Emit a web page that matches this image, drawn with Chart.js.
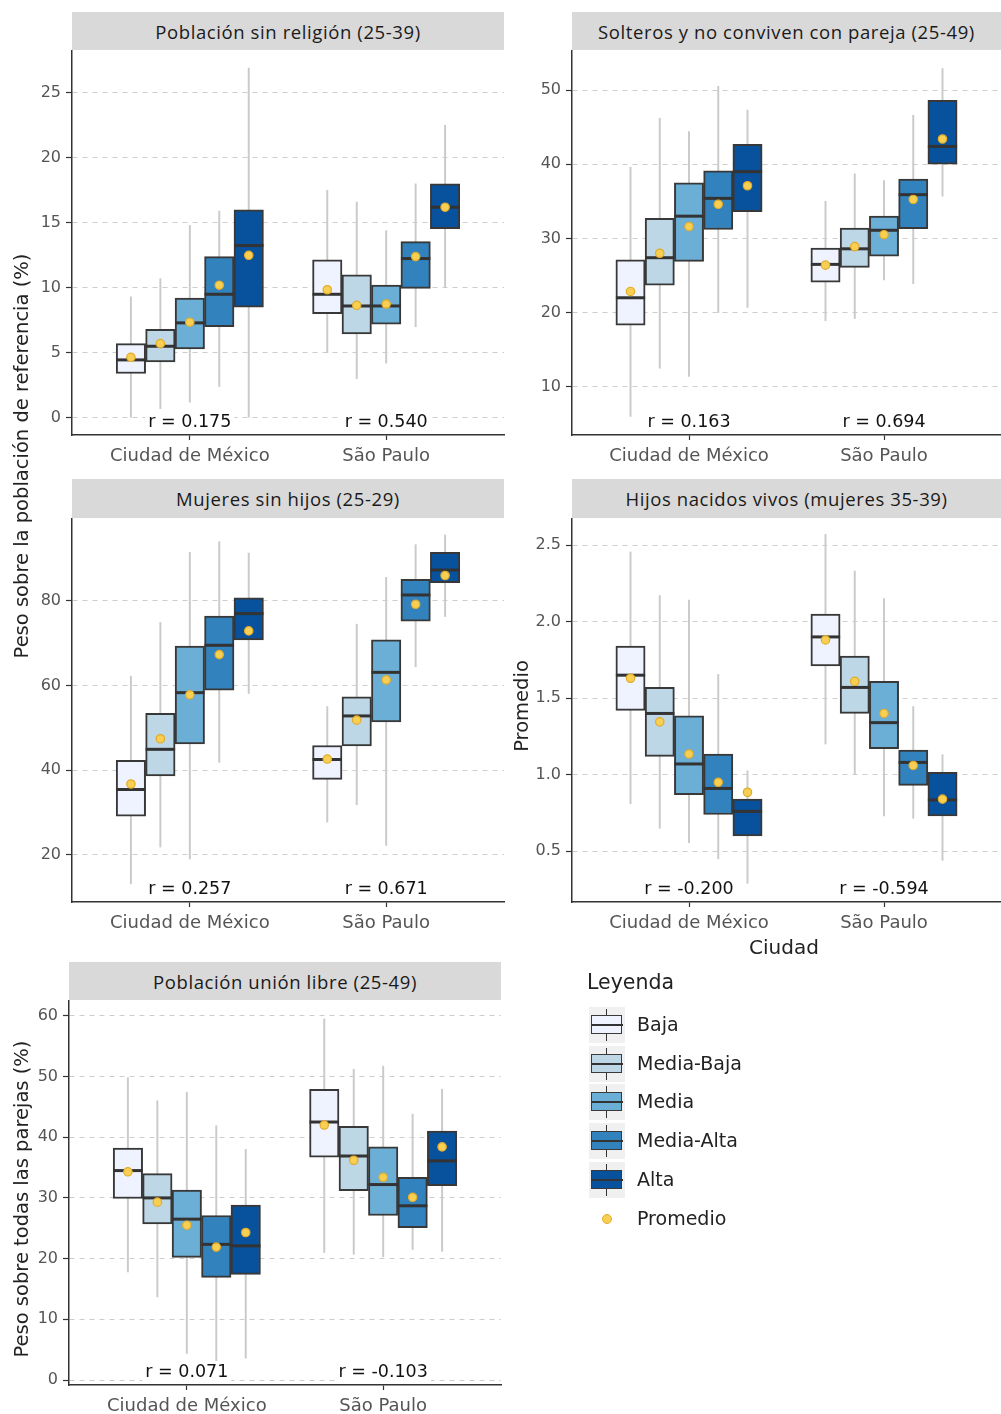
<!DOCTYPE html>
<html>
<head>
  <meta charset="utf-8">
  <title>Boxplots por ciudad</title>
  <style>
    body {
      margin: 0;
      background: #fff;
      font-family: 'DejaVu Sans', sans-serif;
    }
    #page {
      position: relative;
      width: 1001px;
      height: 1414px;
      overflow: hidden;
    }
    canvas { position: absolute; }
    .strip {
      position: absolute;
      background: #d9d9d9;
      color: #1a1a1a;
      font-family: 'Open Sans', sans-serif;
      font-size: 18.5px;
      letter-spacing: 0.6px;
      text-align: center;
      display: flex;
      align-items: center;
      justify-content: center;
    }
    .ytitle {
      position: absolute;
      width: 600px;
      height: 26px;
      line-height: 26px;
      text-align: center;
      font-size: 19.5px;
      color: #222;
      transform: rotate(-90deg);
    }
    .lab { position: absolute; color: #222; }
    .key {
      position: absolute;
      width: 36px;
      height: 36px;
      background: #f0f0f0;
    }
    .key .wh { position: absolute; left: 17px; top: 2px; width: 1.2px; height: 32px; background: #333; }
    .key .bx { position: absolute; left: 2px; top: 8px; width: 29px; height: 17px; border: 1.5px solid #3a3a3a; }
    .key .md { position: absolute; left: 2px; top: 17px; width: 32px; height: 2px; background: #333; }
  </style>
</head>
<body>
<div id="page">
  <div class="strip" style="left:72px;top:12px;width:432px;height:38px">Población sin religión (25-39)</div>
  <div class="strip" style="left:572px;top:12px;width:429px;height:38px">Solteros y no conviven con pareja (25-49)</div>
  <div class="strip" style="left:72px;top:479px;width:432px;height:39px">Mujeres sin hijos (25-29)</div>
  <div class="strip" style="left:572px;top:479px;width:429px;height:39px">Hijos nacidos vivos (mujeres 35-39)</div>
  <div class="strip" style="left:69px;top:962px;width:432px;height:38px">Población unión libre (25-49)</div>

  <canvas id="c1" width="510" height="430" style="left:0;top:50px"></canvas>
  <canvas id="c2" width="501" height="430" style="left:500px;top:50px"></canvas>
  <canvas id="c3" width="510" height="429" style="left:0;top:518px"></canvas>
  <canvas id="c4" width="501" height="429" style="left:500px;top:518px"></canvas>
  <canvas id="c5" width="510" height="414" style="left:0;top:1000px"></canvas>

  <div class="ytitle" style="left:-278px;top:443px">Peso sobre la población de referencia (%)</div>
  <div class="ytitle" style="left:222px;top:693px">Promedio</div>
  <div class="ytitle" style="left:-278px;top:1186px">Peso sobre todas las parejas (%)</div>
  <div class="lab" style="left:749px;top:935px;font-size:20px">Ciudad</div>

  <div id="legend"></div>
</div>

<script src="https://cdn.jsdelivr.net/npm/chart.js@4.4.0/dist/chart.umd.min.js"></script>
<script>
// categorias
var cities = ['Ciudad de México', 'São Paulo'];
var levels = ['Baja', 'Media-Baja', 'Media', 'Media-Alta', 'Alta'];
var levelColors = ['#eff3ff', '#bdd7e7', '#6baed6', '#3182bd', '#08519c'];

// cada arreglo: 5 niveles de CDMX y luego 5 de São Paulo
// Población sin religión (25-39)
var relLow  = [0.0, 0.7, 1.2, 2.4, 0.0,     5.0, 3.0, 4.2, 7.0, 10.0];
var relQ1   = [3.4, 4.3, 5.3, 7.0, 8.5,     8.0, 6.45, 7.2, 9.95, 14.55];
var relMed  = [4.45, 5.5, 7.3, 9.5, 13.25,  9.5, 8.6, 8.6, 12.25, 16.2];
var relQ3   = [5.7, 6.8, 9.2, 12.4, 16.0,   12.15, 11.0, 10.2, 13.55, 18.0];
var relHigh = [9.3, 10.7, 14.8, 15.9, 26.9, 17.5, 16.6, 14.4, 18.0, 22.5];
var relMean = [4.65, 5.7, 7.35, 10.2, 12.5, 9.85, 8.65, 8.75, 12.4, 16.2];
var relTicks = [0, 5, 10, 15, 20, 25];
var relR = ['r = 0.175', 'r = 0.540'];

// Solteros y no conviven con pareja (25-49)
var solLow  = [6.0, 12.5, 11.4, 20.0, 20.7,   18.9, 19.2, 24.4, 23.9, 35.7];
var solQ1   = [18.3, 23.7, 26.9, 31.2, 33.6,  24.1, 26.1, 27.6, 31.3, 40.0];
var solMed  = [22.0, 27.4, 33.0, 35.4, 39.0,  26.5, 28.6, 31.1, 35.9, 42.4];
var solQ3   = [27.1, 32.7, 37.5, 39.1, 42.7,  28.7, 31.4, 33.0, 38.0, 48.6];
var solHigh = [39.6, 46.2, 44.4, 50.5, 47.3,  35.0, 38.7, 37.8, 46.6, 52.9];
var solMean = [22.85, 28.0, 31.6, 34.6, 37.1, 26.4, 28.9, 30.5, 35.25, 43.4];
var solTicks = [10, 20, 30, 40, 50];
var solR = ['r = 0.163', 'r = 0.694'];

// Mujeres sin hijos (25-29)
var hijLow  = [13.1, 21.8, 19.0, 41.8, 58.1,  27.7, 31.8, 22.2, 64.4, 76.3];
var hijQ1   = [29.1, 38.6, 46.2, 58.9, 70.8,  37.8, 45.7, 51.4, 75.2, 84.3];
var hijMed  = [35.4, 44.9, 58.3, 69.5, 77.0,  42.5, 52.8, 63.1, 81.4, 87.3];
var hijQ3   = [42.3, 53.4, 69.3, 76.4, 80.7,  45.8, 57.3, 70.8, 85.1, 91.5];
var hijHigh = [62.2, 74.9, 91.5, 94.0, 91.3,  55.0, 74.5, 85.6, 93.3, 95.6];
var hijMean = [36.7, 47.4, 57.8, 67.3, 72.9,  42.6, 51.8, 61.3, 79.2, 86.0];
var hijTicks = [20, 40, 60, 80];
var hijR = ['r = 0.257', 'r = 0.671'];

// Hijos nacidos vivos (mujeres 35-39)
var nacLow  = [0.81, 0.65, 0.555, 0.45, 0.29,   1.20, 1.00, 0.73, 0.715, 0.44];
var nacQ1   = [1.42, 1.12, 0.87, 0.74, 0.60,    1.71, 1.40, 1.17, 0.93, 0.73];
var nacMed  = [1.65, 1.40, 1.07, 0.91, 0.76,    1.90, 1.57, 1.34, 1.08, 0.835];
var nacQ3   = [1.84, 1.57, 1.385, 1.135, 0.84,  2.05, 1.775, 1.61, 1.16, 1.015];
var nacHigh = [2.455, 2.17, 2.14, 1.655, 1.025, 2.57, 2.33, 2.15, 1.445, 1.13];
var nacMean = [1.63, 1.345, 1.135, 0.95, 0.885, 1.88, 1.61, 1.40, 1.06, 0.84];
var nacTicks = [0.5, 1.0, 1.5, 2.0, 2.5];
var nacR = ['r = -0.200', 'r = -0.594'];

// Población unión libre (25-49)
var uniLow  = [17.8, 13.7, 4.4, 0.5, 3.6,     21.0, 20.7, 20.3, 21.5, 21.2];
var uniQ1   = [29.9, 25.7, 20.2, 16.9, 17.4,  36.7, 31.2, 27.1, 25.1, 32.0];
var uniMed  = [34.5, 30.0, 26.5, 22.35, 22.1, 42.5, 36.9, 32.2, 28.7, 36.1];
var uniQ3   = [38.2, 34.0, 31.3, 27.1, 28.8,  47.9, 41.8, 38.4, 33.4, 41.0];
var uniHigh = [49.8, 46.0, 47.4, 41.9, 38.0,  59.5, 51.2, 51.7, 43.8, 47.9];
var uniMean = [34.3, 29.3, 25.5, 21.9, 24.3,  42.0, 36.2, 33.4, 30.1, 38.4];
var uniTicks = [0, 10, 20, 30, 40, 50, 60];
var uniR = ['r = 0.071', 'r = -0.103'];

var dodge = 0.15;   // ancho de cada caja en unidades del eje x
var fontFam = "'DejaVu Sans', sans-serif";

function xPos(i) {
  var c = Math.floor(i / 5), k = i % 5;
  return c + 1 + (k - 2) * dodge;
}

// etiqueta r = ... con fondo blanco
function rText(labels) {
  return {
    id: 'rtext',
    afterDatasetsDraw: function (chart) {
      var ctx = chart.ctx, x = chart.scales.x, y0 = chart.chartArea.bottom - 14;
      ctx.save();
      ctx.font = '17.5px ' + fontFam;
      ctx.textAlign = 'center';
      ctx.textBaseline = 'middle';
      labels.forEach(function (t, c) {
        var px = x.getPixelForValue(c + 1);
        var w = ctx.measureText(t).width + 6;
        ctx.fillStyle = '#fff';
        ctx.fillRect(px - w / 2, y0 - 10, w, 20);
        ctx.fillStyle = '#111';
        ctx.fillText(t, px, y0 + 1);
      });
      ctx.restore();
    }
  };
}

function boxChart(id, low, q1, med, q3, high, mean, yMin, yMax, ticks, tickFmt, rLabels, lay) {
  var idx = low.map(function (_, i) { return i; });
  var datasets = [];

  datasets.push({
    type: 'bar', label: 'bigotes',
    data: idx.map(function (i) { return { x: xPos(i), y: [low[i], high[i]] }; }),
    backgroundColor: '#cacaca', borderWidth: 0,
    barThickness: 1.3, grouped: false, order: 4
  });

  levels.forEach(function (lv, k) {
    datasets.push({
      type: 'bar', label: lv,
      data: cities.map(function (_, c) {
        var i = c * 5 + k;
        return { x: xPos(i), y: [q1[i], q3[i]] };
      }),
      backgroundColor: levelColors[k],
      borderColor: '#383838', borderWidth: 2, borderSkipped: false,
      grouped: false, categoryPercentage: 1, barPercentage: 1, order: 3
    });
  });

  datasets.push({
    type: 'scatter', label: 'mediana',
    data: idx.map(function (i) { return { x: xPos(i), y: med[i] }; }),
    pointStyle: 'line',
    pointRadius: function (ctx) {
      var x = ctx.chart.scales.x;
      return (x.getPixelForValue(1 + dodge) - x.getPixelForValue(1)) / 2;
    },
    borderColor: '#333', borderWidth: 3, order: 2
  });

  datasets.push({
    type: 'scatter', label: 'Promedio',
    data: idx.map(function (i) { return { x: xPos(i), y: mean[i] }; }),
    pointStyle: 'circle', pointRadius: 4.2,
    backgroundColor: '#f6cf53', borderColor: '#e3ab2a', borderWidth: 1.2, order: 1
  });

  return new Chart(document.getElementById(id), {
    type: 'bar',
    data: { datasets: datasets },
    plugins: [rText(rLabels)],
    options: {
      responsive: false,
      animation: false,
      events: [],
      layout: { autoPadding: false, padding: { left: 0, right: lay.rp, top: 0, bottom: 0 } },
      plugins: { legend: { display: false }, tooltip: { enabled: false } },
      scales: {
        x: {
          type: 'linear', min: 0.4, max: 2.6, offset: false,
          afterBuildTicks: function (s) { s.ticks = [{ value: 1 }, { value: 2 }]; },
          afterFit: function (s) { s.height = lay.xh; s.paddingLeft = 0; s.paddingRight = 0; },
          ticks: {
            padding: 6,
            color: '#555',
            font: { family: fontFam, size: 18 },
            callback: function (v) { return cities[Math.round(v) - 1]; }
          },
          grid: {
            offset: false, drawOnChartArea: false, drawTicks: true,
            tickLength: 5, tickColor: '#333', tickWidth: 1.2
          },
          border: { display: true, color: '#333', width: 1.5 }
        },
        y: {
          type: 'linear', min: yMin, max: yMax,
          afterBuildTicks: function (s) { s.ticks = ticks.map(function (v) { return { value: v }; }); },
          afterFit: function (s) { s.width = lay.yw; s.paddingTop = 0; s.paddingBottom = 0; },
          ticks: {
            padding: 5,
            color: '#555',
            font: { family: fontFam, size: 16 },
            callback: tickFmt
          },
          grid: {
            color: '#cdcdcd', lineWidth: 1,
            drawTicks: true, tickLength: 6, tickColor: '#333', tickWidth: 1.2,
            tickBorderDash: []
          },
          border: { display: true, color: '#333', width: 1.5, dash: [5, 5] }
        }
      }
    }
  });
}

var plain = function (v) { return String(v); };
var oneDec = function (v) { return v.toFixed(1); };

boxChart('c1', relLow, relQ1, relMed, relQ3, relHigh, relMean, -1.33, 28.3, relTicks, plain, relR,
  { yw: 72, xh: 45, rp: 6 });
boxChart('c2', solLow, solQ1, solMed, solQ3, solHigh, solMean, 3.5, 55.4, solTicks, plain, solR,
  { yw: 72, xh: 45, rp: 0 });
boxChart('c3', hijLow, hijQ1, hijMed, hijQ3, hijHigh, hijMean, 8.8, 99.6, hijTicks, plain, hijR,
  { yw: 72, xh: 45, rp: 6 });
boxChart('c4', nacLow, nacQ1, nacMed, nacQ3, nacHigh, nacMean, 0.168, 2.677, nacTicks, oneDec, nacR,
  { yw: 72, xh: 45, rp: 0 });
boxChart('c5', uniLow, uniQ1, uniMed, uniQ3, uniHigh, uniMean, -0.82, 62.6, uniTicks, plain, uniR,
  { yw: 69, xh: 29, rp: 9 });

// leyenda
var leg = document.getElementById('legend');
var html = '<div class="lab" style="left:587px;top:970px;font-size:20.5px">Leyenda</div>';
levels.forEach(function (lv, k) {
  var top = 1007 + k * 38.7;
  html += '<div class="key" style="left:589px;top:' + top + 'px">' +
    '<div class="wh"></div><div class="bx" style="background:' + levelColors[k] + '"></div><div class="md"></div></div>' +
    '<div class="lab" style="left:637px;top:' + (top + 6) + 'px;font-size:19px">' + lv + '</div>';
});
var ptop = 1007 + 5 * 38.7;
html += '<div style="position:absolute;left:602px;top:' + (ptop + 13) + 'px;width:8px;height:8px;border-radius:50%;background:#f6cf53;border:1.2px solid #e3ab2a"></div>' +
  '<div class="lab" style="left:637px;top:' + (ptop + 6) + 'px;font-size:19px">Promedio</div>';
leg.innerHTML = html;
</script>
</body>
</html>
